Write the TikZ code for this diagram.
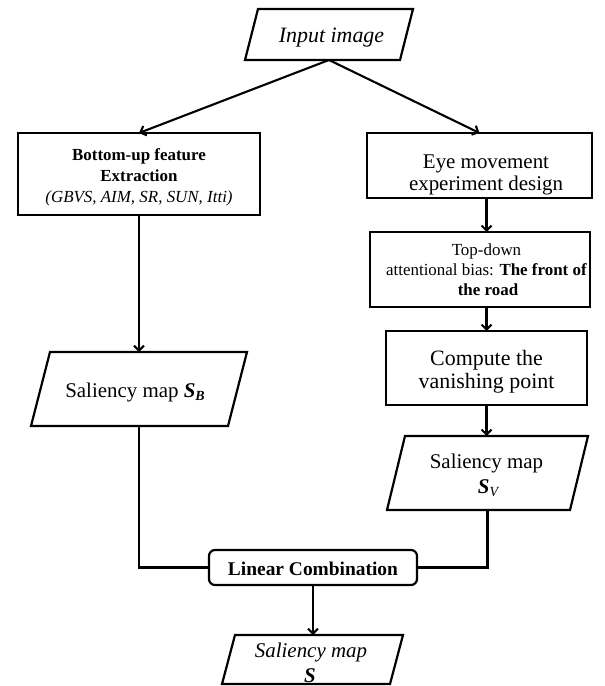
\documentclass[tikz,border=0pt]{standalone}
\usepackage{fontspec}
\setmainfont{Liberation Serif}
\usetikzlibrary{arrows.meta}
\newcommand\fs[1]{\fontsize{#1}{#1}\selectfont}
\newcommand\drawpara[2]{\draw[frame] ([xshift=#2]#1.north west) -- ([xshift=#2]#1.north east) -- ([xshift=-#2]#1.south east) -- ([xshift=-#2]#1.south west) -- cycle;}
\begin{document}
\begin{tikzpicture}[x=1bp,y=-1bp,
  every node/.style={inner sep=0pt, outer sep=0pt},
  frame/.style={line width=2.2bp, line join=miter},
  boxnode/.style={draw, frame},
  paranode/.style={draw=none},
  txt/.style={anchor=base},
  conn/.style={line width=2.1bp},
  arr/.style={conn, -{Straight Barb[length=5bp,width=10bp]}}]
\useasboundingbox (0,0) rectangle (605,686);

% shapes
\node[paranode, minimum width=155bp, minimum height=51bp] (inp) at (329,34.5) {};
\drawpara{inp}{6.5bp}
\node[boxnode, minimum width=242bp, minimum height=82bp] (bu) at (139,174) {};
\node[boxnode, minimum width=225bp, minimum height=65bp] (eye) at (479.5,165.5) {};
\node[boxnode, minimum width=220bp, minimum height=75bp] (td) at (480,269.5) {};
\node[boxnode, minimum width=201bp, minimum height=74bp] (vp) at (486.5,368) {};
\node[paranode, minimum width=183bp, minimum height=74bp] (sv) at (487.5,473) {};
\drawpara{sv}{9bp}
\node[paranode, minimum width=197bp, minimum height=74bp] (sb) at (139,389) {};
\drawpara{sb}{9.5bp}
\node[boxnode, rounded corners=6bp, minimum width=208bp, minimum height=35bp] (lc) at (313,567.5) {};
\node[paranode, minimum width=168bp, minimum height=49bp] (s) at (312.5,659.5) {};
\drawpara{s}{6.5bp}

% texts
\node[txt, font=\fs{22}\itshape] (tinp) at (331.5,43) {Input image};
\node[txt, font=\fs{17}\bfseries] (tbu1) at (139,160) {Bottom-up feature};
\node[txt, font=\fs{17}\bfseries] (tbu2) at (139,181) {Extraction};
\node[txt, font=\fs{17}\itshape] (tbu3) at (139,202) {(GBVS, AIM, SR, SUN, Itti)};
\node[txt, font=\fs{21}] (teye1) at (486,168) {Eye movement};
\node[txt, font=\fs{21}] (teye2) at (486,190) {experiment design};
\node[txt, font=\fs{17}] (ttd1) at (486.5,255) {Top-down};
\node[txt, font=\fs{17}] (ttd2) at (486.5,275) {attentional bias: \textbf{The front of}};
\node[txt, font=\fs{17}\bfseries] (ttd3) at (488,295) {the road};
\node[txt, font=\fs{22}] (tvp1) at (486.5,365) {Compute the};
\node[txt, font=\fs{22}] (tvp2) at (486.5,388) {vanishing point};
\node[txt, font=\fs{21}] (tsv1) at (486.5,468) {Saliency map};
\node[txt, font=\fs{21}] (tsv2) at (488,493) {{\bfseries\itshape S}\raisebox{-3.5bp}{\fs{14}\itshape V}};
\node[txt, font=\fs{21}] (tsb) at (135,397) {Saliency map {\bfseries\itshape S}\raisebox{-3.5bp}{\fs{14}\bfseries\itshape B}};
\node[txt, font=\fs{19.5}\bfseries] (tlc) at (313,575) {Linear Combination};
\node[txt, font=\fs{21}\itshape] (ts1) at (311,657) {Saliency map};
\node[txt, font=\fs{21}\bfseries\itshape] (ts2) at (310,682) {S};

% connectors
\draw[arr] (inp.south) -- (bu.north);
\draw[arr] (inp.south) -- (eye.north);
\draw[arr] (bu.south) -- (sb.north);
\draw[arr] (eye.south -| ttd1.base) -- (td.north -| ttd1.base);
\draw[arr] (vp.north |- td.south) -- (vp.north);
\draw[arr] (vp.south) -- (vp.south |- sv.north);
\draw[conn] (sv.south) |- (lc.east);
\draw[conn] (sb.south) |- (lc.west);
\draw[arr] (lc.south) -- (lc.south |- s.north);
\end{tikzpicture}
\end{document}
